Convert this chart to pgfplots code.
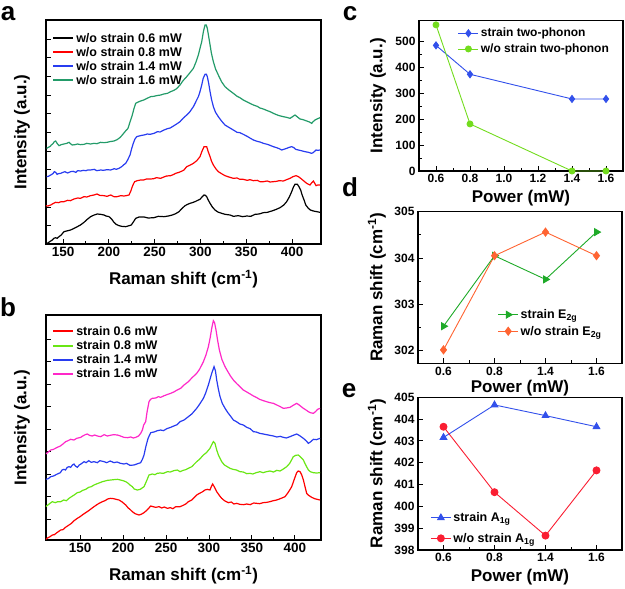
\documentclass[border=0pt]{standalone}
\usepackage{fontspec}
\setmainfont{Liberation Sans}
\usepackage{pgfplots}
\pgfplotsset{compat=1.18}
\definecolor{agreen}{RGB}{35,155,105}
\definecolor{bgreen}{RGB}{105,230,20}
\definecolor{bmag}{RGB}{255,40,200}
\definecolor{sblue}{RGB}{40,60,240}
\definecolor{cblue}{RGB}{50,80,235}
\definecolor{cgreen}{RGB}{115,220,30}
\definecolor{dgreen}{RGB}{30,170,40}
\definecolor{dorange}{RGB}{255,100,50}
\definecolor{ered}{RGB}{250,30,50}
\pgfplotsset{
  panel/.style={scale only axis, tick align=inside, tick pos=left,
    axis line style={line width=1.2pt},
    every tick/.style={line width=0.9pt, black},
    major tick length=5pt, minor tick length=3pt,
    /pgf/number format/assume math mode=true,
    xticklabel={\textbf{\pgfmathprintnumber{\tick}}},
    yticklabel={\textbf{\pgfmathprintnumber{\tick}}},
    label style={font=\fontsize{17}{20}\selectfont\bfseries},
    legend style={draw=none, fill=none, font=\fontsize{12.5}{15}\selectfont\bfseries, inner sep=0pt, row sep=-0.5pt},
    legend cell align=left},
  spec/.style={panel, width=275pt, xtick={150,200,...,400}, minor x tick num=1,
    y dir=reverse, yticklabels={},
    tick label style={font=\fontsize{13.5}{15}\selectfont\bfseries},
    xlabel={Raman shift (cm\textsuperscript{-1})},
    ylabel={Intensity (a.u.)},
    xlabel style={at={(axis description cs:0.5,0)}, anchor=center, yshift=-35pt},
    ylabel style={at={(axis description cs:-0.087,0.5)}, anchor=center},
    legend image code/.code={\draw[#1, line width=2pt] (0pt,0pt) -- (20pt,0pt);},
    legend style={at={(0.022,0.952)}, anchor=north west}},
  small/.style={panel, width=204pt,
    tick label style={font=\fontsize{12}{14}\selectfont\bfseries},
    xlabel={Power (mW)},
    xlabel style={at={(axis description cs:0.5,0)}, anchor=center, yshift=-27pt},
    ylabel style={at={(axis description cs:-0.201,0.5)}, anchor=center},
    legend image code/.code={\draw[#1] (0pt,0pt) -- (20pt,0pt); \draw[#1] plot coordinates {(10pt,0pt)};}},
  spl/.style={line width=1.2pt}
}
\begin{document}
\begin{tikzpicture}[x=1pt,y=1pt]
\useasboundingbox (0,0) rectangle (625,-589);
% ---------------- panel a
\begin{axis}[spec, at={(46pt,-20pt)}, anchor=north west, height=224pt,
  xmin=131.4, xmax=431.6, ymin=15, ymax=687,
  ytick={72,128,184,240,296,352,408,464,520,576,632}]
\addplot[spl, black] coordinates {(132.8,685)(136,679)(138.3,675)(140,670)(141.9,668)(143.5,670)(145.6,665)(148,660)(151.0,650)(154,648)(158.3,645)(162,640)(165.6,635)(169,630)(172.9,622)(176,614)(180.1,605)(184,600)(187.4,597)(191,598)(194.7,600)(197,603)(200.2,605)(203,612)(205.6,622)(208,628)(211.1,632)(214,634)(218.4,635)(221,633)(224.5,630)(227,620)(229.3,610)(233,606)(238.4,606)(243,609)(249.3,608)(254,604)(260.2,605)(265,603)(269.3,600)(273,596)(276.6,590)(280,580)(283.2,572)(286,568)(288.6,565)(291,563)(294.1,560)(297,556)(299.5,553)(302,545)(303.9,540)(305.5,541)(306.8,545)(308.5,555)(310.5,565)(313,576)(315.9,585)(319,591)(323.2,595)(327,598)(332.3,600)(336,604)(341.4,602)(346,605)(350.5,603)(355,604)(359.6,598)(364,597)(368.7,593)(373,592)(377.8,588)(382,584)(386.9,578)(391,570)(394.1,560)(397,546)(399.6,530)(401.5,516)(403.2,508)(405.8,508)(407.5,515)(409.4,525)(411,540)(413.1,555)(415,570)(417.8,580)(420,585)(423.3,588)(427,590)(430.5,592)};
\addlegendentry{w/o strain 0.6 mW}
\addplot[spl, red] coordinates {(131.0,572)(133.5,573)(136.5,570)(139,566)(141.9,562)(145,563)(148,560)(151.0,560)(155,556)(158,557)(162.0,552)(166,549)(169,550)(172.9,545)(176,546)(180,542)(183.8,540)(187,537)(190,541)(194.7,542)(198,544)(202,540)(205.6,545)(209,545)(213,542)(216.5,543)(219,542)(222.0,540)(224,528)(225.6,515)(227,506)(228.2,500)(231,497)(234.7,495)(238,495)(241,492)(245.6,492)(249,491)(252,488)(256.6,490)(260,486)(263,483)(267.5,482)(271,478)(273,475)(276.6,472)(280,468)(282,465)(285.0,455)(289,450)(292.3,445)(296,437)(299.5,425)(301.5,410)(303.9,395)(306.8,395)(308.5,410)(310.5,425)(312,438)(314.1,450)(317,462)(319.5,470)(323,476)(326.8,482)(331,486)(335.9,490)(340,489)(343,493)(346.8,493)(351,496)(354,494)(357.8,497)(362,496)(365,500)(368.7,500)(373,498)(376,501)(379.6,500)(383,499)(386,497)(390.5,498)(394,494)(397.8,490)(401,485)(404.3,482)(407,485)(409.4,490)(412,496)(416.0,505)(418,508)(419.6,510)(421.5,503)(423.3,498)(424.8,505)(426.2,512)(428,510)(430.5,510)};
\addlegendentry{w/o strain 0.8 mW}
\addplot[spl, sblue] coordinates {(132.1,485)(134,484)(136.5,480)(139,476)(140.5,470)(142,472)(143.5,478)(145,476)(147.4,475)(150,472)(152,470)(155,474)(158.3,470)(161,469)(164,472)(166,467)(169.2,468)(172,466)(175,467)(177,465)(180.1,465)(184,463)(187,467)(191.1,465)(194,466)(198,464)(202.0,465)(206,461)(208,463)(211.1,460)(214,455)(216,450)(218.4,445)(220.5,435)(223.1,420)(225,400)(226.7,385)(228.5,372)(230.4,365)(233,363)(236,361)(238.4,360)(242,357)(245,358)(249.3,355)(253,350)(256,351)(260.2,345)(264,341)(267,339)(271.1,332)(274,327)(277.7,320)(281,310)(285.0,300)(288,292)(292.3,275)(295,260)(297.7,245)(299.5,230)(301.4,210)(303,190)(305.0,178)(306.5,178)(307.5,185)(309,205)(310.5,230)(312,252)(314.1,275)(316.5,292)(319.5,305)(323,318)(326.8,330)(331,337)(335.9,345)(340,352)(343,353)(346.8,358)(351,364)(354,369)(357.8,375)(362,379)(365,381)(368.7,385)(373,388)(376,391)(379.6,395)(383,398)(386,401)(388.7,405)(391,403)(394.1,400)(397,397)(399.6,395)(402,398)(404,403)(406.9,405)(410,407)(414.2,410)(418,412)(421.4,415)(423,413)(426.2,405)(428,406)(430.5,405)};
\addlegendentry{w/o strain 1.4 mW}
\addplot[spl, agreen] coordinates {(132.1,400)(134,397)(136,394)(137.2,390)(139,386)(140.5,380)(141.9,378)(143.5,385)(145.6,392)(148,389)(151,387)(154,385)(156.5,382)(158,386)(160.1,390)(163,389)(166,387)(169,389)(172.9,388)(176,385)(180,387)(183.8,385)(187,386)(191,382)(194.7,383)(198,382)(201,380)(205.6,378)(209,374)(212,368)(214.7,360)(217,352)(220.9,340)(223,322)(225.6,300)(227.5,280)(229.3,265)(232,261)(234.7,258)(238,255)(241,251)(245.6,245)(249,244)(252,242)(256.6,240)(260,237)(264,235)(267.5,230)(271,226)(274,221)(277.7,210)(281,197)(285.0,185)(288,175)(292.3,160)(295,142)(297.7,120)(299.5,100)(301.4,80)(303.2,50)(305.0,30)(306.3,30)(307.5,40)(309,65)(310.5,90)(312,115)(314.1,140)(316.5,162)(319.5,180)(323,200)(326.8,215)(331,225)(335.9,235)(340,244)(343,248)(346.8,255)(351,261)(354,265)(357.8,270)(362,274)(365,279)(368.7,282)(373,287)(376,290)(379.6,295)(383,299)(386,302)(390.5,305)(394,307)(397.8,310)(400,306)(403.2,300)(405.5,305)(408.7,312)(412,314)(416.0,318)(419,321)(421.4,325)(423,320)(425.1,315)(428,311)(430.5,308)};
\addlegendentry{w/o strain 1.6 mW}
\end{axis}
% ---------------- panel b
\begin{axis}[spec, at={(46pt,-315pt)}, anchor=north west, height=225pt,
  xmin=110.3, xmax=430.4, ymin=15, ymax=690,
  legend style={at={(0.022,0.96)}, anchor=north west},
  ytick={88,155,222,290,357,425,492,560,627}]
\addplot[spl, red] coordinates {(109.9,688)(112,684)(115,680)(117.7,675)(120,674)(123,668)(127.4,660)(130,659)(133,652)(137.1,645)(140,640)(143,632)(146.8,625)(150,620)(153,614)(156.5,608)(160,602)(163,596)(166.2,590)(169,585)(172,580)(175.9,575)(179,572)(182,567)(185.6,565)(189,566)(192,568)(195.3,570)(199,576)(203.1,585)(206,594)(208,598)(210.8,605)(214,611)(218.6,615)(221,613)(224.4,608)(228,600)(232.2,588)(235,590)(238,592)(241.9,590)(245,594)(248,591)(251.6,595)(255,593)(258,596)(261.3,590)(266.3,590)(270,586)(273,582)(276.0,575)(280,570)(283,562)(285.7,555)(289,550)(292,546)(295.4,540)(298,538)(301.2,540)(302.7,530)(304.3,522)(306.5,532)(309.0,545)(312,556)(314.8,565)(318,572)(322.6,578)(326,576)(329,582)(332.3,580)(336,583)(340,584)(343.9,582)(348,584)(352,579)(355.5,580)(359,581)(363,578)(367.2,577)(371,575)(375,572)(378.8,570)(382,567)(385,564)(388.5,560)(392,548)(394,540)(396.3,530)(399,510)(402.1,488)(404,483)(406.0,485)(408,495)(409.9,510)(412,532)(413.7,550)(416,556)(419.6,562)(423,566)(426,568)(429.3,570)};
\addlegendentry{strain 0.6 mW}
\addplot[spl, bgreen] coordinates {(109.9,590)(112,586)(115,580)(117.7,575)(121,578)(124,575)(127.4,575)(131,570)(134,572)(137.1,565)(140,560)(143,555)(146.8,548)(150,546)(153,541)(156.5,538)(160,532)(163,530)(166.2,525)(169,522)(172,519)(175.9,515)(179,513)(182,511)(185.6,510)(189,509)(193.4,508)(197,510)(200,512)(203.1,515)(206,520)(208,525)(210.8,530)(213,537)(216.6,540)(220,538)(224.4,530)(227,515)(230.2,495)(234,492)(237,494)(239.9,490)(243,489)(247,490)(251.6,485)(255,486)(259,482)(263.2,480)(266.3,485)(270,481)(273,479)(276.0,475)(280,470)(283,462)(285.7,455)(289,448)(293.5,435)(297,428)(301.2,415)(303,405)(305.1,395)(307,400)(309.0,420)(311,435)(314.8,455)(318,465)(320,468)(324.5,475)(328,478)(332,480)(336.1,485)(340,486)(344,491)(347.8,490)(351,492)(355,488)(359.4,485)(363,488)(367,485)(371.1,483)(375,486)(379,481)(382.7,483)(386,478)(390.5,470)(394,460)(398.2,440)(401,436)(404.0,435)(407,442)(409.9,450)(412,462)(415.7,480)(418,485)(421.5,488)(425,489)(429.3,488)};
\addlegendentry{strain 0.8 mW}
\addplot[spl, sblue] coordinates {(109.9,508)(113,506)(115.8,500)(119,498)(123.5,492)(127,488)(129,480)(131.3,478)(133,480)(135,472)(137.1,470)(139,472)(141,465)(142.9,462)(144.5,468)(146.8,472)(149,465)(151,462)(154.6,455)(157,458)(160,452)(163,457)(166.2,455)(170,458)(173,452)(177.8,455)(181,458)(185,453)(189.5,458)(193,456)(197,460)(201.1,462)(204,460)(208,466)(212.8,465)(216,462)(220.5,458)(222.5,448)(224.4,435)(226.5,410)(229.1,385)(232.2,368)(236,366)(240,362)(243.8,360)(247,362)(251,356)(255.4,352)(259,348)(263,344)(266.3,335)(271.0,330)(276.0,320)(280,312)(285.7,295)(289,283)(293.5,265)(296,250)(299.3,225)(301.5,205)(303.2,190)(305.9,170)(307.5,182)(309.0,210)(311,238)(312.9,260)(315.5,280)(318.7,295)(322,308)(325,318)(328.4,330)(332,335)(336,342)(340.0,345)(344,352)(348,356)(351.7,365)(355,366)(359,370)(363.3,372)(367,374)(371,376)(375.0,378)(379,381)(383,379)(386.6,382)(390,384)(394.3,380)(398,376)(402.1,372)(405,376)(409.9,385)(413,392)(415.7,400)(418,396)(421.5,388)(425,389)(429.3,385)};
\addlegendentry{strain 1.4 mW}
\addplot[spl, bmag] coordinates {(109.9,432)(112,428)(115.8,420)(119,418)(123.5,412)(127,408)(130,402)(133.2,395)(136,392)(139,388)(142.9,390)(146,385)(150.7,382)(153,378)(156,374)(158.4,372)(161,376)(164,378)(167,375)(170.1,378)(174,380)(178,374)(181.7,378)(185,376)(189,374)(193.4,375)(197,378)(201,382)(205.0,383)(209,381)(212,384)(214.7,382)(218,378)(220.5,370)(222.5,360)(224,345)(226.3,335)(228,305)(230.2,275)(232,268)(234.1,265)(238,264)(241,260)(243.8,262)(247,258)(251,254)(255.4,250)(259,246)(263,240)(267.1,235)(271.0,225)(276.0,215)(280,204)(285.7,190)(289,178)(293.5,155)(296.5,135)(299.3,110)(301.5,82)(303.2,55)(305.1,32)(306.5,38)(308.2,60)(310,90)(312.1,120)(315,148)(318.7,170)(322,185)(325,198)(328.4,210)(332,220)(336,230)(340.0,240)(344,246)(348,252)(351.7,258)(355,262)(359,268)(363.3,272)(367,275)(371,278)(375.0,280)(379,285)(383,290)(386.6,295)(390,294)(394.3,292)(398,286)(402.1,280)(405,285)(409.9,295)(413,300)(415.7,305)(418,308)(421.5,310)(424,305)(426.5,298)(429.3,295)};
\addlegendentry{strain 1.6 mW}
\end{axis}
% ---------------- panel c
\begin{axis}[small, at={(419pt,-20.7pt)}, anchor=north west, height=150.3pt,
  xmin=0.5, xmax=1.7, ymin=0, ymax=578,
  xtick={0.6,0.8,1.0,1.2,1.4,1.6}, minor x tick num=1,
  ytick={0,100,200,300,400,500}, minor y tick num=1,
  xticklabel={\textbf{\pgfmathprintnumber[fixed, fixed zerofill, precision=1]{\tick}}},
  ylabel={Intensity (a.u.)},
  legend style={at={(0.19,0.965)}, anchor=north west, row sep=1.5pt, font=\fontsize{12}{15}\selectfont\bfseries}]
\addplot[cblue, line width=0.9pt, mark=diamond*, mark size=3.5pt] coordinates {(0.6,483)(0.8,372)(1.4,277)(1.6,277)};
\addlegendentry{strain two-phonon}
\addplot[cgreen, line width=0.9pt, mark=*, mark size=3pt] coordinates {(0.6,562)(0.8,181)(1.4,0)(1.6,0)};
\addlegendentry{w/o strain two-phonon}
\end{axis}
% ---------------- panel d
\begin{axis}[small, at={(418pt,-211.7pt)}, anchor=north west, height=151.6pt,
  xmin=-0.5, xmax=3.5, ymin=301.73, ymax=305,
  xtick={0,1,2,3}, xticklabels={\textbf{0.6},\textbf{0.8},\textbf{1.4},\textbf{1.6}}, minor xtick={0.5,1.5,2.5},
  ytick={302,303,304,305}, minor y tick num=1,
  xlabel style={yshift=2pt},
  ylabel={Raman shift (cm\textsuperscript{-1})},
  legend style={at={(0.39,0.37)}, anchor=north west, row sep=2pt}]
\addplot[dgreen, line width=0.9pt, mark=triangle*, mark options={rotate=-90}, mark size=4pt] coordinates {(0,302.53)(1,304.05)(2,303.54)(3,304.56)};
\addlegendentry{strain E\textsubscript{2g}}
\addplot[dorange, line width=0.9pt, mark=diamond*, mark size=4pt] coordinates {(0,302.02)(1,304.05)(2,304.56)(3,304.05)};
\addlegendentry{w/o strain E\textsubscript{2g}}
\end{axis}
% ---------------- panel e
\begin{axis}[small, at={(418pt,-397.3pt)}, anchor=north west, height=152.7pt,
  xmin=-0.5, xmax=3.5, ymin=398, ymax=405,
  xtick={0,1,2,3}, xticklabels={\textbf{0.6},\textbf{0.8},\textbf{1.4},\textbf{1.6}}, minor xtick={0.5,1.5,2.5},
  ytick={398,399,...,405},
  ylabel={Raman shift (cm\textsuperscript{-1})},
  legend style={at={(0.06,0.26)}, anchor=north west, row sep=6pt}]
\addplot[cblue, line width=0.9pt, mark=triangle*, mark size=3.8pt] coordinates {(0,403.16)(1,404.65)(2,404.16)(3,403.65)};
\addlegendentry{strain A\textsubscript{1g}}
\addplot[ered, line width=0.9pt, mark=*, mark size=3.5pt] coordinates {(0,403.65)(1,400.65)(2,398.66)(3,401.65)};
\addlegendentry{w/o strain A\textsubscript{1g}}
\end{axis}
% ---------------- panel letters
\begin{scope}[every node/.style={font=\fontsize{26}{26}\selectfont\bfseries, inner sep=0pt}]
\node at (8,-14) {a};
\node at (8,-307) {b};
\node at (350,-14) {c};
\node at (350,-187) {d};
\node at (349,-391) {e};
\end{scope}
\end{tikzpicture}
\end{document}
